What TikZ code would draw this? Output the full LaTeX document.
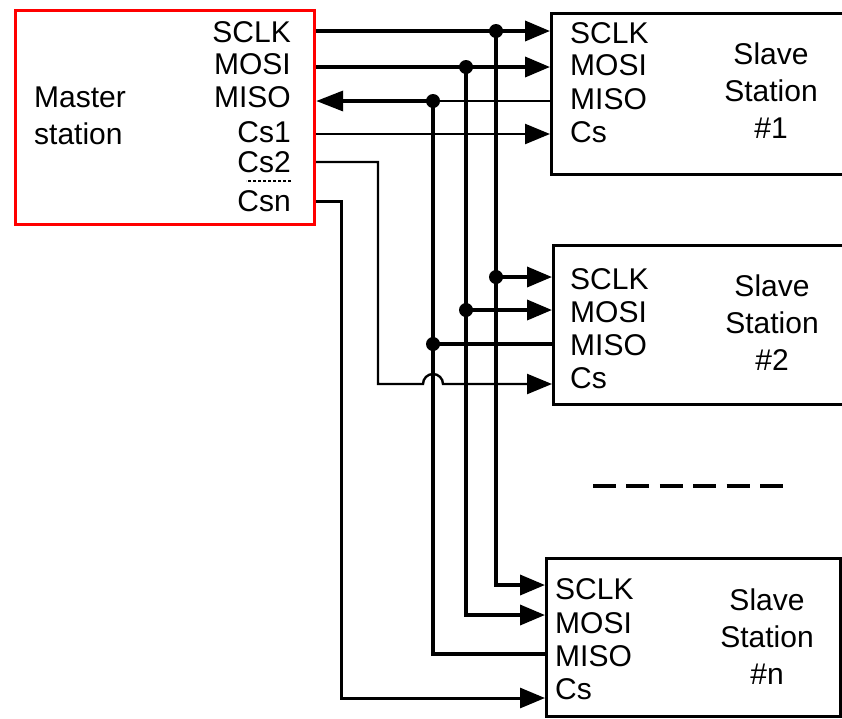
\documentclass[tikz,border=0pt]{standalone}
\usepackage{fontspec}
\setmainfont{Liberation Sans}
\usetikzlibrary{arrows.meta}

\begin{document}
\begin{tikzpicture}[x=1pt, y=-1pt,
  box/.style={draw, line width=3.2pt, inner sep=0pt, anchor=north west},
  pin/.style={font=\fontsize{30}{33}\selectfont, inner sep=0pt},
  title/.style={font=\fontsize{30}{37}\selectfont, align=center, inner sep=0pt},
  bus/.style={line width=3.6pt},
  sel/.style={line width=2.4pt},
  tip/.style={-{Triangle[length=25pt,width=20pt]}},
  dot/.style={circle, fill, inner sep=0pt, minimum size=14pt}]

\clip (0,0) rectangle (842,718);

% Colori
\definecolor{masterRed}{HTML}{FF0000}

% Master
\node[box, draw=masterRed, minimum width=299pt, minimum height=214pt] (master) at (14,9) {};
\node[title, align=left, anchor=west] (mName) at (34,116) {Master\\station};
\node[pin, anchor=east] (mSclk) at (291,32) {SCLK};
\node[pin, anchor=east] (mMosi) at (291,64) {MOSI};
\node[pin, anchor=east] (mMiso) at (291,97) {MISO};
\node[pin, anchor=east] (mCs1) at (291,132) {Cs1};
\node[pin, anchor=east] (mCs2) at (291,162) {Cs2};
\node[pin, anchor=east] (mCsn) at (291,201) {Csn};
\draw[line width=1.8pt, dash pattern=on 3pt off 2pt] (mCs2.east |- 0,181) -- (246,181);

% Slave #1
\node[box, minimum width=300pt, minimum height=161pt] (slaveA) at (550,12) {};
\node[title] (aName) at (771,91) {Slave\\Station\\\#1};
\node[pin, anchor=west] (aSclk) at (570,33) {SCLK};
\node[pin, anchor=west] (aMosi) at (570,65) {MOSI};
\node[pin, anchor=west] (aMiso) at (570,99) {MISO};
\node[pin, anchor=west] (aCs) at (570,132) {Cs};

% Slave #2
\node[box, minimum width=300pt, minimum height=159pt] (slaveB) at (552,244) {};
\node[title] (bName) at (772,323) {Slave\\Station\\\#2};
\node[pin, anchor=west] (bSclk) at (570,279) {SCLK};
\node[pin, anchor=west] (bMosi) at (570,312) {MOSI};
\node[pin, anchor=west] (bMiso) at (570,345) {MISO};
\node[pin, anchor=west] (bCs) at (570,378) {Cs};

% Slave #n
\node[box, minimum width=294pt, minimum height=158pt] (slaveN) at (545,557) {};
\node[title] (nName) at (767,637) {Slave\\Station\\\#n};
\node[pin, anchor=west] (nSclk) at (555,589) {SCLK};
\node[pin, anchor=west] (nMosi) at (555,623) {MOSI};
\node[pin, anchor=west] (nMiso) at (555,656) {MISO};
\node[pin, anchor=west] (nCs) at (555,689) {Cs};

% Punti di giunzione
\node[dot] (jSclkA) at (496,31) {};
\node[dot] (jSclkB) at (496,277) {};
\node[dot] (jMosiA) at (466,67) {};
\node[dot] (jMosiB) at (466,310) {};
\node[dot] (jMisoA) at (433,101) {};
\node[dot] (jMisoB) at (433,344) {};

% SCLK
\draw[bus, tip] (master.east |- jSclkA) -- (slaveA.west |- jSclkA);
\draw[bus, tip] (jSclkB.center) -- (slaveB.west |- jSclkB);
\draw[bus, tip] (jSclkA.center) |- (slaveN.west |- 0,585);

% MOSI
\draw[bus, tip] (master.east |- jMosiA) -- (slaveA.west |- jMosiA);
\draw[bus, tip] (jMosiB.center) -- (slaveB.west |- jMosiB);
\draw[bus, tip] (jMosiA.center) |- (slaveN.west |- 0,615);

% MISO
\draw[sel] (slaveA.west |- jMisoA) -- (jMisoA.center);
\draw[bus, -{Triangle[length=27pt,width=20pt]}] (jMisoA.center) -- (master.east |- jMisoA);
\draw[bus] (jMisoB.center) -- (slaveB.west |- jMisoB);
\draw[bus] (jMisoA.center) |- (slaveN.west |- 0,654);

% Cs
\draw[sel, tip] (master.east |- 0,134) -- (slaveA.west |- 0,134);
\draw[sel, tip] (master.east |- 0,162) -| (378,384) -- (423,384)
  arc[start angle=180, end angle=0, radius=10pt] -- (slaveB.west |- 0,384);
\draw[line width=3pt, tip] (master.east |- 0,201) -| (341,698) -- (slaveN.west |- 0,698);

% Altri slave
\draw[line width=4pt, dash pattern=on 23pt off 10.4pt] (593,486) -- (783,486);
\end{tikzpicture}
\end{document}
